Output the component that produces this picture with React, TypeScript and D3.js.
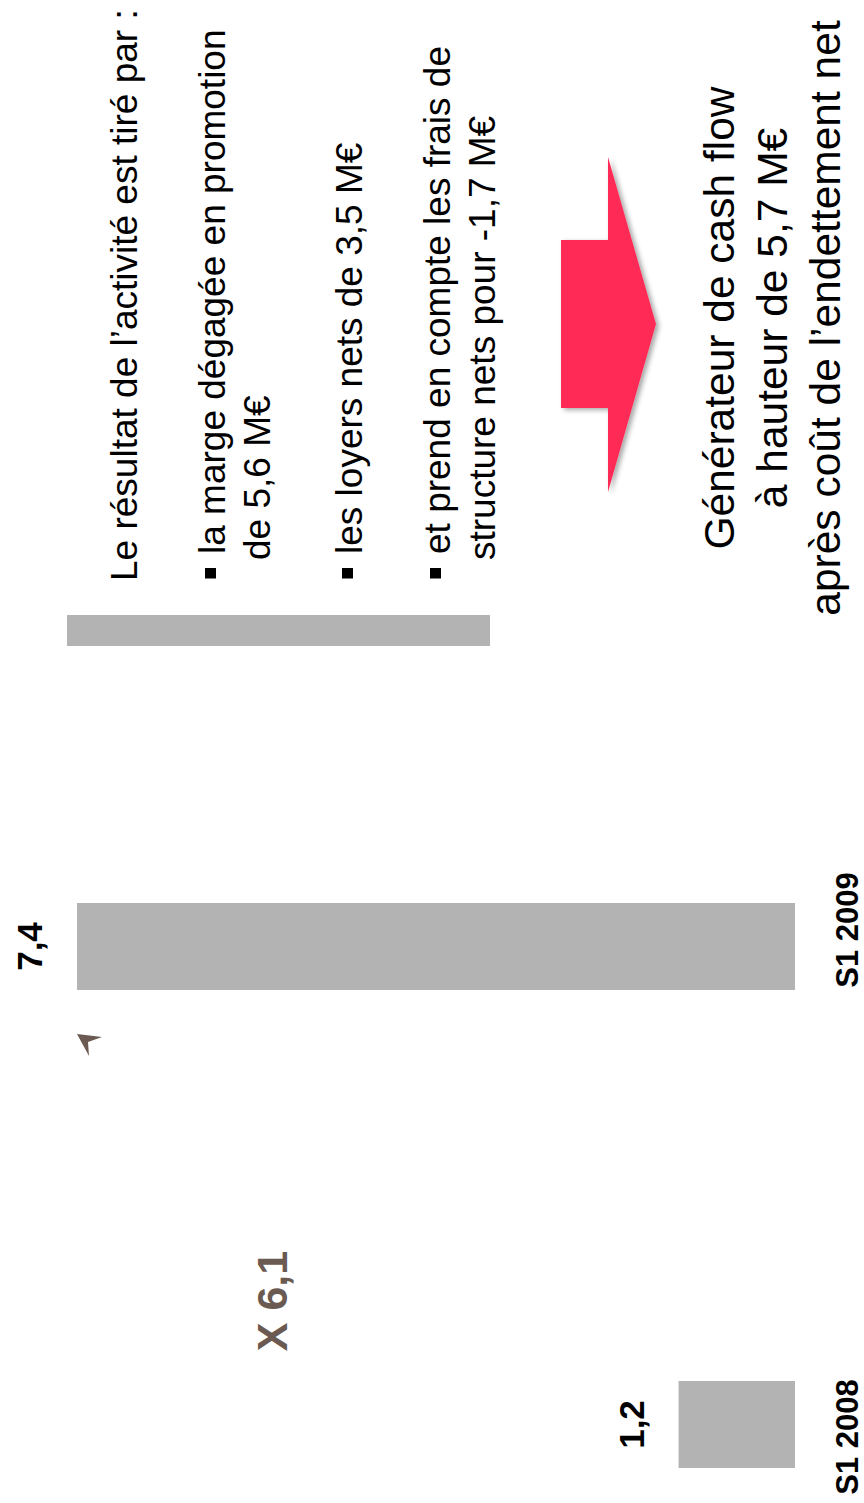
import React from "react";
import * as d3 from "d3";

const categories = ["S1 2008", "S1 2009"];
const values = [1.2, 7.4];
const valueLabels = ["1,2", "7,4"];
const growthLabel = "X 6,1";

const titleText = "Le résultat de l\u2019activité est tiré par :";
const bulletItems = [
  ["la marge dégagée en promotion", "de 5,6 M€"],
  ["les loyers nets de 3,5 M€"],
  ["et prend en compte les frais de", "structure nets pour -1,7 M€"],
];
const conclusionLines = [
  "Générateur de cash flow",
  "à hauteur de 5,7 M€",
  "après coût de l\u2019endettement net",
];

const W = 864;
const H = 1503;
const FONT = "'Liberation Sans', Arial, Helvetica, sans-serif";
const GRAY = "#b3b3b3";
const BROWN = "#6b5a52";
const RED = "#ff2c55";

export default function App() {
  // Rotated layout: value axis runs horizontally (baseline on the right), categories vertically.
  const x = d3.scaleLinear().domain([0, 7.4]).range([795, 77]);
  const y = d3
    .scaleBand<string>()
    .domain(categories)
    .range([1468, 903])
    .paddingInner(0.818)
    .paddingOuter(0);
  const bw = y.bandwidth();
  // category axis label positions
  const yLab = d3.scalePoint<string>().domain(categories).range([1437, 930]);

  const rot = (px: number, py: number) => `translate(${px},${py}) rotate(-90)`;

  const bulletBase = [
    [225, 270],
    [362],
    [450, 495],
  ];

  const arrowPts: [number, number][] = [
    [561, 240],
    [608, 240],
    [608, 157],
    [656, 324],
    [608, 492],
    [608, 408],
    [561, 408],
  ];
  const arrowLine = d3.line();

  const headPts: [number, number][] = [
    [77, 1034],
    [102, 1037],
    [88, 1042],
    [89, 1056],
  ];

  return (
    <svg
      width={W}
      height={H}
      viewBox={`0 0 ${W} ${H}`}
      style={{ position: "absolute", left: 0, top: 0, background: "#fff" }}
      fontFamily={FONT}
    >
      <defs>
        <filter id="shadow" x="-30%" y="-10%" width="160%" height="120%">
          <feDropShadow dx="3" dy="2" stdDeviation="2.5" floodColor="#000" floodOpacity="0.35" />
        </filter>
      </defs>
      <rect x={0} y={0} width={W} height={H} fill="#fff" />

      {categories.map((c, i) => (
        <rect
          key={c}
          x={x(values[i])}
          y={y(c)}
          width={x(0) - x(values[i])}
          height={bw}
          fill={GRAY}
        />
      ))}
      {categories.map((c, i) => (
        <text
          key={"v" + c}
          transform={rot(x(values[i]) - 35, (y(c) as number) + bw / 2)}
          textAnchor="middle"
          fontWeight="bold"
          fontSize={35}
          fill="#000"
        >
          {valueLabels[i]}
        </text>
      ))}
      {categories.map((c) => (
        <text
          key={"c" + c}
          transform={rot(858, yLab(c) as number)}
          textAnchor="middle"
          fontWeight="bold"
          fontSize={31}
          fill="#000"
        >
          {c}
        </text>
      ))}

      <text transform={rot(287, 1301)} textAnchor="middle" fontWeight="bold" fontSize={43} fill={BROWN}>
        {growthLabel}
      </text>
      <path d={arrowLine(headPts) + "Z"} fill={BROWN} />

      <rect x={67} y={615} width={423} height={31} fill={GRAY} />

      <text transform={rot(137, 581)} fontSize={37} fill="#000">
        {titleText}
      </text>

      {bulletItems.map((lines, i) => (
        <g key={"b" + i}>
          <rect x={bulletBase[i][0] - 20} y={568} width={11} height={10.5} fill="#000" />
          {lines.map((ln, j) => (
            <text key={j} transform={rot(bulletBase[i][j], j === 0 ? 554 : 560)} fontSize={37} fill="#000">
              {ln}
            </text>
          ))}
        </g>
      ))}

      <path d={arrowLine(arrowPts) + "Z"} fill={RED} filter="url(#shadow)" />

      {conclusionLines.map((ln, i) => (
        <text
          key={"cl" + i}
          transform={rot([734, 787, 840][i], 318)}
          textAnchor="middle"
          fontSize={42.5}
          fill="#000"
        >
          {ln}
        </text>
      ))}
    </svg>
  );
}
